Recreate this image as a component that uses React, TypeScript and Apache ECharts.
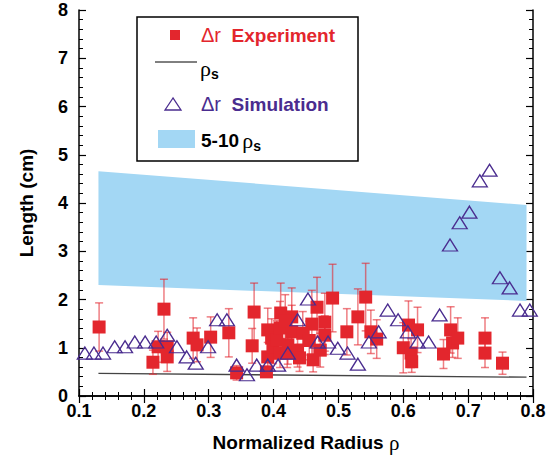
import React, { useEffect, useRef } from "react";
import * as echarts from "echarts";

// Simulation (open triangles)
const simX = [0.109, 0.123, 0.137, 0.155, 0.171, 0.186, 0.202, 0.219, 0.236, 0.251, 0.266, 0.28, 0.299, 0.313, 0.328, 0.343, 0.359, 0.374, 0.391, 0.407, 0.422, 0.437, 0.453, 0.468, 0.484, 0.499, 0.514, 0.53, 0.547, 0.562, 0.576, 0.592, 0.607, 0.622, 0.639, 0.656, 0.672, 0.687, 0.702, 0.718, 0.733, 0.749, 0.764, 0.78, 0.795];
const simY = [0.89, 0.89, 0.89, 1.02, 1.02, 1.12, 1.12, 1.12, 1.26, 1.02, 0.81, 0.68, 1.02, 1.58, 1.58, 0.64, 0.44, 0.64, 0.64, 0.64, 0.89, 1.58, 2.01, 1.12, 1.12, 0.99, 0.89, 0.66, 1.12, 1.33, 1.78, 1.58, 1.33, 1.12, 1.12, 1.68, 3.13, 3.59, 3.81, 4.46, 4.68, 2.45, 2.24, 1.78, 1.78];

// Experiment (filled squares with error bars)
const expX = [0.131, 0.214, 0.222, 0.231, 0.236, 0.236, 0.276, 0.282, 0.303, 0.331, 0.343, 0.367, 0.37, 0.389, 0.391, 0.391, 0.397, 0.399, 0.405, 0.41, 0.411, 0.41, 0.421, 0.422, 0.428, 0.428, 0.437, 0.44, 0.459, 0.461, 0.467, 0.479, 0.479, 0.491, 0.513, 0.53, 0.542, 0.55, 0.559, 0.6, 0.608, 0.612, 0.613, 0.622, 0.662, 0.673, 0.676, 0.684, 0.726, 0.726, 0.753, 0.445, 0.472, 0.455, 0.418];
const expY = [1.43, 0.7, 1.02, 1.8, 1.02, 0.81, 1.2, 1.06, 1.22, 1.31, 0.48, 1.04, 1.74, 0.5, 0.81, 1.37, 1.2, 1.02, 1.16, 1.41, 1.72, 0.89, 0.89, 1.06, 1.64, 1.33, 0.95, 0.79, 1.49, 0.75, 1.84, 1.53, 1.26, 2.03, 1.33, 1.64, 2.05, 1.33, 1.18, 1.0, 1.47, 0.89, 0.71, 1.37, 0.87, 1.37, 1.1, 1.2, 1.2, 0.89, 0.68, 1.3, 0.95, 1.15, 1.55];
const expErr = [0.5, 0.25, 0.32, 0.62, 0.3, 0.3, 0.42, 0.35, 0.42, 0.5, 0.15, 0.36, 0.6, 0.1, 0.3, 0.45, 0.4, 0.35, 0.4, 0.55, 0.62, 0.3, 0.3, 0.4, 0.6, 0.55, 0.35, 0.28, 0.7, 0.25, 0.62, 0.6, 0.4, 0.7, 0.48, 0.58, 0.7, 0.45, 0.4, 0.52, 0.5, 0.3, 0.22, 0.47, 0.3, 0.48, 0.3, 0.42, 0.42, 0.3, 0.23, 0.45, 0.35, 0.4, 0.55];

// rho_s line and 5-10 rho_s band
const rhoX = [0.13, 0.79];
const rhoY = [0.47, 0.39];
const bandLower = [2.3, 1.97];
const bandUpper = [4.66, 3.96];

const xTicks = { min: 0.1, max: 0.8, interval: 0.1 };
const yTicks = { min: 0, max: 8, interval: 1 };

const RED = "#e3262d";
const PURPLE = "#4a2c8f";
const BLUE = "#a3d7f4";
const NARROW = "'Liberation Sans Narrow', 'Arial Narrow', 'Liberation Sans', Arial, sans-serif";
const SANS = "'Liberation Sans', Arial, sans-serif";
const SERIF = "'Liberation Serif', 'DejaVu Serif', serif";

export default function App() {
  const ref = useRef<HTMLDivElement>(null);
  useEffect(() => {
    if (!ref.current) return;
    const chart = echarts.init(ref.current, undefined, { renderer: "svg" });
    const axisCommon = {
      axisLine: { show: true, lineStyle: { color: "#000", width: 1.5 } },
      axisTick: { show: true, inside: true, length: 7, lineStyle: { color: "#000", width: 1.2 } },
      minorTick: { show: true, splitNumber: 5, length: 4, lineStyle: { color: "#000", width: 1 } },
      splitLine: { show: false },
    };
    const labelStyle = { color: "#000", fontFamily: NARROW, fontWeight: "bold" as const, fontSize: 18 };
    const nameStyle = {
      color: "#000",
      fontFamily: NARROW,
      fontWeight: "bold" as const,
      fontSize: 19,
      rich: { r: { fontFamily: SERIF, fontWeight: "normal" as const, fontSize: 21, color: "#000" } },
    };
    const expData = expX.map((x, i) => [x, expY[i], expErr[i]]);
    const simData = simX.map((x, i) => [x, simY[i]]);
    const rhoData = rhoX.map((x, i) => [x, rhoY[i]]);

    chart.setOption({
      animation: false,
      grid: { left: 79, top: 10, right: 16, bottom: 67, containLabel: false },
      xAxis: [
        {
          type: "value",
          ...xTicks,
          ...axisCommon,
          axisLabel: { ...labelStyle, margin: 6, formatter: (v: number) => v.toFixed(1) },
          name: "Normalized Radius {r|ρ}",
          nameLocation: "middle",
          nameGap: 36,
          nameTextStyle: nameStyle,
        },
        { type: "value", position: "top", ...xTicks, ...axisCommon, axisLabel: { show: false } },
      ],
      yAxis: [
        {
          type: "value",
          ...yTicks,
          ...axisCommon,
          axisLabel: { ...labelStyle, margin: 11 },
          name: "Length (cm)",
          nameLocation: "middle",
          nameGap: 43,
          nameTextStyle: nameStyle,
        },
        { type: "value", position: "right", ...yTicks, ...axisCommon, axisLabel: { show: false } },
      ],
      series: [
        {
          type: "custom",
          name: "band",
          z: 1,
          data: [[rhoX[0], bandLower[0]]],
          encode: { x: 0, y: 1 },
          renderItem: (_p: any, api: any) => {
            const pts = [
              api.coord([rhoX[0], bandUpper[0]]),
              api.coord([rhoX[1], bandUpper[1]]),
              api.coord([rhoX[1], bandLower[1]]),
              api.coord([rhoX[0], bandLower[0]]),
            ];
            return { type: "polygon", shape: { points: pts }, style: { fill: BLUE } };
          },
        },
        {
          type: "line",
          name: "rho",
          z: 2,
          data: rhoData,
          symbol: "none",
          lineStyle: { color: "#444", width: 1.3 },
        },
        {
          type: "custom",
          name: "err",
          z: 3,
          data: expData,
          encode: { x: 0, y: 1 },
          renderItem: (_p: any, api: any) => {
            const x = api.value(0);
            const y = api.value(1);
            const e = api.value(2);
            const t = api.coord([x, y + e]);
            const b = api.coord([x, y - e]);
            const st = { stroke: "rgba(226,40,48,0.6)", lineWidth: 1.5 };
            const hw = 4;
            return {
              type: "group",
              children: [
                { type: "line", shape: { x1: t[0], y1: t[1], x2: b[0], y2: b[1] }, style: st },
                { type: "line", shape: { x1: t[0] - hw, y1: t[1], x2: t[0] + hw, y2: t[1] }, style: st },
                { type: "line", shape: { x1: b[0] - hw, y1: b[1], x2: b[0] + hw, y2: b[1] }, style: st },
              ],
            };
          },
        },
        {
          type: "scatter",
          name: "exp",
          z: 4,
          data: expData.map((d) => [d[0], d[1]]),
          symbol: "rect",
          symbolSize: 13,
          itemStyle: { color: RED, opacity: 1 },
        },
        {
          type: "scatter",
          name: "sim",
          z: 5,
          data: simData,
          symbol: "triangle",
          symbolSize: [15, 12],
          itemStyle: { color: "rgba(255,255,255,0)", borderColor: PURPLE, borderWidth: 1.3, opacity: 1 },
        },
      ],
      graphic: [
        {
          type: "rect",
          z: 100,
          shape: { x: 137, y: 17, width: 221, height: 144 },
          style: { fill: "#fff", stroke: "#000", lineWidth: 1.5 },
        },
        { type: "rect", z: 101, shape: { x: 170, y: 30, width: 10, height: 10 }, style: { fill: RED } },
        {
          type: "text",
          z: 101,
          x: 201,
          y: 35,
          style: {
            text: "{d|Δr}  Experiment",
            fill: RED,
            font: `bold 19px ${SANS}`,
            verticalAlign: "middle",
            rich: { d: { fontFamily: SANS, fontWeight: "normal", fontSize: 20, fill: RED } },
          },
        },
        { type: "line", z: 101, shape: { x1: 155, y1: 62, x2: 197, y2: 62 }, style: { stroke: "#000", lineWidth: 1 } },
        {
          type: "text",
          z: 101,
          x: 200,
          y: 68,
          style: {
            text: "{r|ρ}{s|s}",
            verticalAlign: "middle",
            rich: {
              r: { fontFamily: SERIF, fontSize: 22, fill: "#000" },
              s: { fontFamily: SANS, fontWeight: "bold", fontSize: 14, fill: "#000", padding: [12, 0, 0, 0] },
            },
          },
        },
        {
          type: "polygon",
          z: 101,
          shape: { points: [[173, 98], [165, 110], [181, 110]] },
          style: { fill: "none", stroke: PURPLE, lineWidth: 1.3 },
        },
        {
          type: "text",
          z: 101,
          x: 201,
          y: 104,
          style: {
            text: "{d|Δr}  Simulation",
            fill: PURPLE,
            font: `bold 19px ${SANS}`,
            verticalAlign: "middle",
            rich: { d: { fontFamily: SANS, fontWeight: "normal", fontSize: 20, fill: PURPLE } },
          },
        },
        { type: "rect", z: 101, shape: { x: 158, y: 130, width: 37, height: 18 }, style: { fill: BLUE } },
        {
          type: "text",
          z: 101,
          x: 201,
          y: 140,
          style: {
            text: "{b|5-10} {r|ρ}{s|s}",
            verticalAlign: "middle",
            rich: {
              b: { fontFamily: SANS, fontWeight: "bold", fontSize: 19, fill: "#000" },
              r: { fontFamily: SERIF, fontSize: 22, fill: "#000" },
              s: { fontFamily: SANS, fontWeight: "bold", fontSize: 14, fill: "#000", padding: [12, 0, 0, 0] },
            },
          },
        },
      ],
    });
    return () => chart.dispose();
  }, []);
  return <div ref={ref} style={{ width: 549, height: 463, position: "absolute", left: 0, top: 0 }} />;
}
